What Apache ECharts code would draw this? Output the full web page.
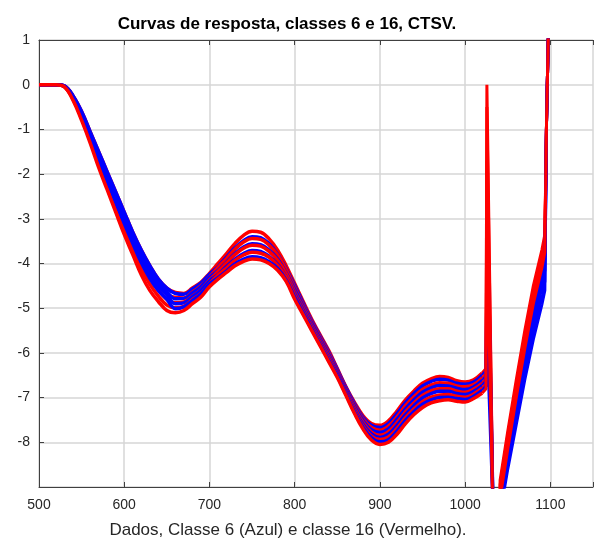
<!DOCTYPE html>
<html>
<head>
<meta charset="utf-8">
<script src="https://cdn.jsdelivr.net/npm/echarts@6/dist/echarts.min.js"></script>
<style>
html,body{margin:0;padding:0;background:#fff;}
#chart{width:596px;height:540px;}
</style>
</head>
<body>
<div id="chart"></div>
<script>
// ---- data ----
var titleText = 'Curvas de resposta, classes 6 e 16, CTSV.';
var xLabelText = 'Dados, Classe 6 (Azul) e classe 16 (Vermelho).';
var xTicks = [500, 600, 700, 800, 900, 1000, 1100];
var yTicks = [-8, -7, -6, -5, -4, -3, -2, -1, 0, 1];

var xs = [500,510,520,530,540,550,560,570,580,590,600,610,620,630,640,650,660,670,680,690,700,
          710,720,730,740,750,760,770,780,790,800,810,820,830,840,850,860,870,880,890,900,
          910,920,930,940,950,960,970,980,990,1000,1010,1020];

// Classe 16 (red)
var red1 = [0,0,0,-0.03,-0.25,-0.60,-1.05,-1.50,-1.95,-2.40,-2.85,-3.30,-3.70,-4.05,-4.35,-4.55,-4.65,-4.67,-4.55,-4.42,-4.22,
            -4.00,-3.78,-3.55,-3.37,-3.28,-3.30,-3.45,-3.70,-4.05,-4.45,-4.85,-5.25,-5.60,-5.95,-6.35,-6.75,-7.10,-7.40,-7.58,-7.62,
            -7.52,-7.30,-7.05,-6.85,-6.68,-6.58,-6.53,-6.55,-6.62,-6.65,-6.60,-6.45];
var red2 = [0,0,0,-0.04,-0.28,-0.65,-1.11,-1.59,-2.05,-2.51,-2.98,-3.43,-3.84,-4.19,-4.48,-4.68,-4.76,-4.77,-4.64,-4.50,-4.30,
            -4.09,-3.89,-3.68,-3.52,-3.44,-3.46,-3.59,-3.81,-4.14,-4.54,-4.93,-5.31,-5.66,-6.01,-6.40,-6.80,-7.16,-7.48,-7.67,-7.73,
            -7.64,-7.43,-7.18,-6.98,-6.82,-6.72,-6.67,-6.68,-6.74,-6.76,-6.71,-6.56];
var red3 = [0,0,0,-0.04,-0.30,-0.70,-1.18,-1.68,-2.15,-2.63,-3.10,-3.55,-3.98,-4.33,-4.60,-4.80,-4.88,-4.86,-4.73,-4.59,-4.37,
            -4.18,-3.99,-3.80,-3.66,-3.59,-3.61,-3.73,-3.93,-4.23,-4.63,-5.00,-5.38,-5.73,-6.08,-6.45,-6.85,-7.23,-7.55,-7.77,-7.84,
            -7.76,-7.56,-7.32,-7.12,-6.95,-6.85,-6.80,-6.80,-6.85,-6.88,-6.81,-6.68];
var red4 = [0,0,0,-0.05,-0.33,-0.75,-1.24,-1.76,-2.25,-2.74,-3.23,-3.68,-4.11,-4.46,-4.73,-4.93,-4.99,-4.96,-4.81,-4.67,-4.45,
            -4.26,-4.10,-3.93,-3.81,-3.75,-3.77,-3.86,-4.04,-4.31,-4.71,-5.08,-5.44,-5.79,-6.14,-6.50,-6.90,-7.29,-7.63,-7.86,-7.94,
            -7.88,-7.69,-7.45,-7.25,-7.09,-6.99,-6.94,-6.93,-6.97,-6.99,-6.92,-6.79];
var red5 = [0,0,0,-0.05,-0.35,-0.80,-1.30,-1.85,-2.35,-2.85,-3.35,-3.80,-4.25,-4.60,-4.85,-5.05,-5.10,-5.05,-4.90,-4.75,-4.52,
            -4.35,-4.20,-4.05,-3.95,-3.90,-3.92,-4.00,-4.15,-4.40,-4.80,-5.15,-5.50,-5.85,-6.20,-6.55,-6.95,-7.35,-7.70,-7.95,-8.05,
            -8.00,-7.82,-7.58,-7.38,-7.22,-7.12,-7.07,-7.05,-7.08,-7.10,-7.02,-6.90];

// Classe 6 (blue)
var blue1 = [0,0,0,-0.03,-0.25,-0.60,-1.05,-1.50,-1.95,-2.40,-2.85,-3.30,-3.70,-4.05,-4.35,-4.55,-4.67,-4.69,-4.57,-4.44,-4.24,
             -4.07,-3.86,-3.65,-3.49,-3.40,-3.42,-3.56,-3.79,-4.12,-4.49,-4.89,-5.28,-5.63,-5.98,-6.37,-6.77,-7.13,-7.44,-7.62,-7.67,
             -7.58,-7.36,-7.11,-6.91,-6.74,-6.64,-6.59,-6.61,-6.68,-6.70,-6.65,-6.50];
var blue2 = [0,0,0,-0.03,-0.27,-0.63,-1.09,-1.55,-2.01,-2.47,-2.93,-3.38,-3.78,-4.13,-4.43,-4.63,-4.79,-4.78,-4.66,-4.52,-4.31,
             -4.16,-3.97,-3.78,-3.63,-3.56,-3.58,-3.70,-3.90,-4.21,-4.58,-4.96,-5.34,-5.69,-6.04,-6.42,-6.82,-7.19,-7.51,-7.72,-7.78,
             -7.70,-7.49,-7.25,-7.05,-6.88,-6.78,-6.73,-6.74,-6.79,-6.82,-6.76,-6.62];
var blue3 = [0,0,0,-0.04,-0.28,-0.66,-1.13,-1.61,-2.07,-2.54,-3.00,-3.45,-3.87,-4.22,-4.50,-4.70,-4.90,-4.88,-4.74,-4.60,-4.39,
             -4.25,-4.07,-3.90,-3.78,-3.71,-3.73,-3.84,-4.02,-4.30,-4.67,-5.04,-5.41,-5.76,-6.11,-6.47,-6.87,-7.26,-7.59,-7.81,-7.89,
             -7.82,-7.62,-7.38,-7.18,-7.01,-6.91,-6.86,-6.86,-6.91,-6.93,-6.86,-6.73];
var blue4 = [0,0,0,-0.04,-0.30,-0.70,-1.18,-1.68,-2.15,-2.63,-3.10,-3.55,-3.98,-4.33,-4.60,-4.80,-5.01,-4.97,-4.83,-4.68,-4.46,
             -4.32,-4.17,-4.01,-3.90,-3.85,-3.87,-3.96,-4.11,-4.37,-4.75,-5.11,-5.47,-5.82,-6.17,-6.52,-6.92,-7.32,-7.66,-7.90,-7.99,
             -7.94,-7.75,-7.51,-7.31,-7.15,-7.05,-7.00,-6.99,-7.02,-7.04,-6.97,-6.84];

// tails (spike at ~1025 and the steep branch up to 1100)
var redTailX  = [1020,1024.5,1025.5,1033,1036,1041,1050,1060,1070,1080,1090,1093.5,1095.5,1098];
var redTail1 = [-6.45,-6.35, 0.0,-10,-40,-8.85,-7.75,-6.60,-5.50,-4.50,-3.70,-3.35,-0.8,1.5];
var redTail2 = [-6.56,-6.46,-0.5,-10,-40,-8.95,-7.85,-6.70,-5.60,-4.60,-3.80,-3.45,-0.8,1.5];
var redTail3 = [-6.68,-6.58,-1.7,-10,-40,-9.05,-7.95,-6.80,-5.70,-4.70,-3.90,-3.55,-0.8,1.5];
var redTail4 = [-6.79,-6.69,-2.7,-10,-40,-9.15,-8.05,-6.90,-5.80,-4.80,-4.00,-3.65,-0.8,1.5];
var redTail5 = [-6.90,-6.80,-3.3,-10,-40,-9.25,-8.15,-7.00,-5.90,-4.90,-4.10,-3.75,-0.8,1.5];
var blueTailX = [1020,1024.5,1026,1033.5,1036,1041,1050,1060,1070,1080,1090,1093.5,1095.5,1098];
var blueTail1 = [-6.50,-6.40,-2.6,-10,-40,-9.30,-8.25,-7.15,-6.10,-5.10,-4.25,-3.90,-0.8,1.5];
var blueTail2 = [-6.62,-6.52,-3.2,-10,-40,-9.40,-8.37,-7.30,-6.27,-5.30,-4.48,-4.15,-0.8,1.5];
var blueTail3 = [-6.73,-6.63,-4.5,-10,-40,-9.50,-8.50,-7.45,-6.45,-5.50,-4.70,-4.40,-0.8,1.5];
var blueTail4 = [-6.84,-6.74,-5.8,-10,-40,-9.60,-8.60,-7.60,-6.60,-5.70,-4.92,-4.60,-0.8,1.5];

// ---- chart ----
var RED = '#ff0000', BLUE = '#0000ff';
var FONT = '"Liberation Sans", Arial, Helvetica, sans-serif';
var LW = 3.5;

function pairs(xa, ya) { return xa.map(function (x, i) { return [x, ya[i]]; }); }
function mainSeries(arr, color) {
  return { type: 'line', data: pairs(xs, arr), smooth: 0.4, showSymbol: false, symbol: 'none',
           lineStyle: { color: color, width: LW }, clip: true, silent: true };
}
function tailSeries(xa, arr, color) {
  return { type: 'line', data: pairs(xa, arr), smooth: false, showSymbol: false, symbol: 'none',
           lineStyle: { color: color, width: 3 }, clip: true, silent: true };
}

var reds = [red1, red2, red3, red4, red5];
var blues = [blue1, blue2, blue3, blue4];
var redTails = [redTail1, redTail2, redTail3, redTail4, redTail5];
var blueTails = [blueTail1, blueTail2, blueTail3, blueTail4];

var series = [];
for (var i = 0; i < 5; i++) {
  series.push(mainSeries(reds[i], RED));
  series.push(tailSeries(redTailX, redTails[i], RED));
  if (i < 4) {
    series.push(mainSeries(blues[i], BLUE));
    series.push(tailSeries(blueTailX, blueTails[i], BLUE));
  }
}

var axisCol = '#404040';
var gridCol = '#d6d6d6';

var chart = echarts.init(document.getElementById('chart'), null, { renderer: 'canvas' });
chart.setOption({
  animation: false,
  backgroundColor: '#ffffff',
  title: [
    { text: titleText, left: 282, top: 11, textAlign: 'center',
      textStyle: { fontFamily: FONT, fontSize: 17, fontWeight: 'bold', color: '#000' } },
    { text: xLabelText, left: 283, top: 517, textAlign: 'center',
      textStyle: { fontFamily: FONT, fontSize: 17, fontWeight: 'normal', color: '#262626' } }
  ],
  grid: { left: 39, right: 0, top: 40, bottom: 53, containLabel: false },
  xAxis: [
    { type: 'value', min: 500, max: 1150, interval: 100, position: 'bottom',
      axisLine: { show: true, onZero: false, lineStyle: { color: axisCol, width: 1 } },
      axisTick: { show: true, inside: true, length: 5, lineStyle: { color: axisCol } },
      axisLabel: { margin: 11, fontFamily: FONT, fontSize: 14, color: '#262626',
        formatter: function (v) { return xTicks.indexOf(v) >= 0 ? String(v) : ''; } },
      splitLine: { show: true, lineStyle: { color: gridCol, width: 1.5 } } },
    { type: 'value', min: 500, max: 1150, interval: 100, position: 'top',
      axisLine: { show: true, onZero: false, lineStyle: { color: axisCol, width: 1 } },
      axisTick: { show: true, inside: true, length: 5, lineStyle: { color: axisCol } },
      axisLabel: { show: false }, splitLine: { show: false } }
  ],
  yAxis: [
    { type: 'value', min: -9, max: 1, interval: 1, position: 'left',
      axisLine: { show: true, onZero: false, lineStyle: { color: axisCol, width: 1 } },
      axisTick: { show: true, inside: true, length: 5, lineStyle: { color: axisCol } },
      axisLabel: { margin: 9, fontFamily: FONT, fontSize: 14, color: '#262626',
        formatter: function (v) { return yTicks.indexOf(v) >= 0 ? String(v) : ''; } },
      splitLine: { show: true, lineStyle: { color: gridCol, width: 1.5 } } }
  ],
  series: series.map(function (s) { s.xAxisIndex = 0; s.yAxisIndex = 0; return s; })
});
</script>
</body>
</html>
